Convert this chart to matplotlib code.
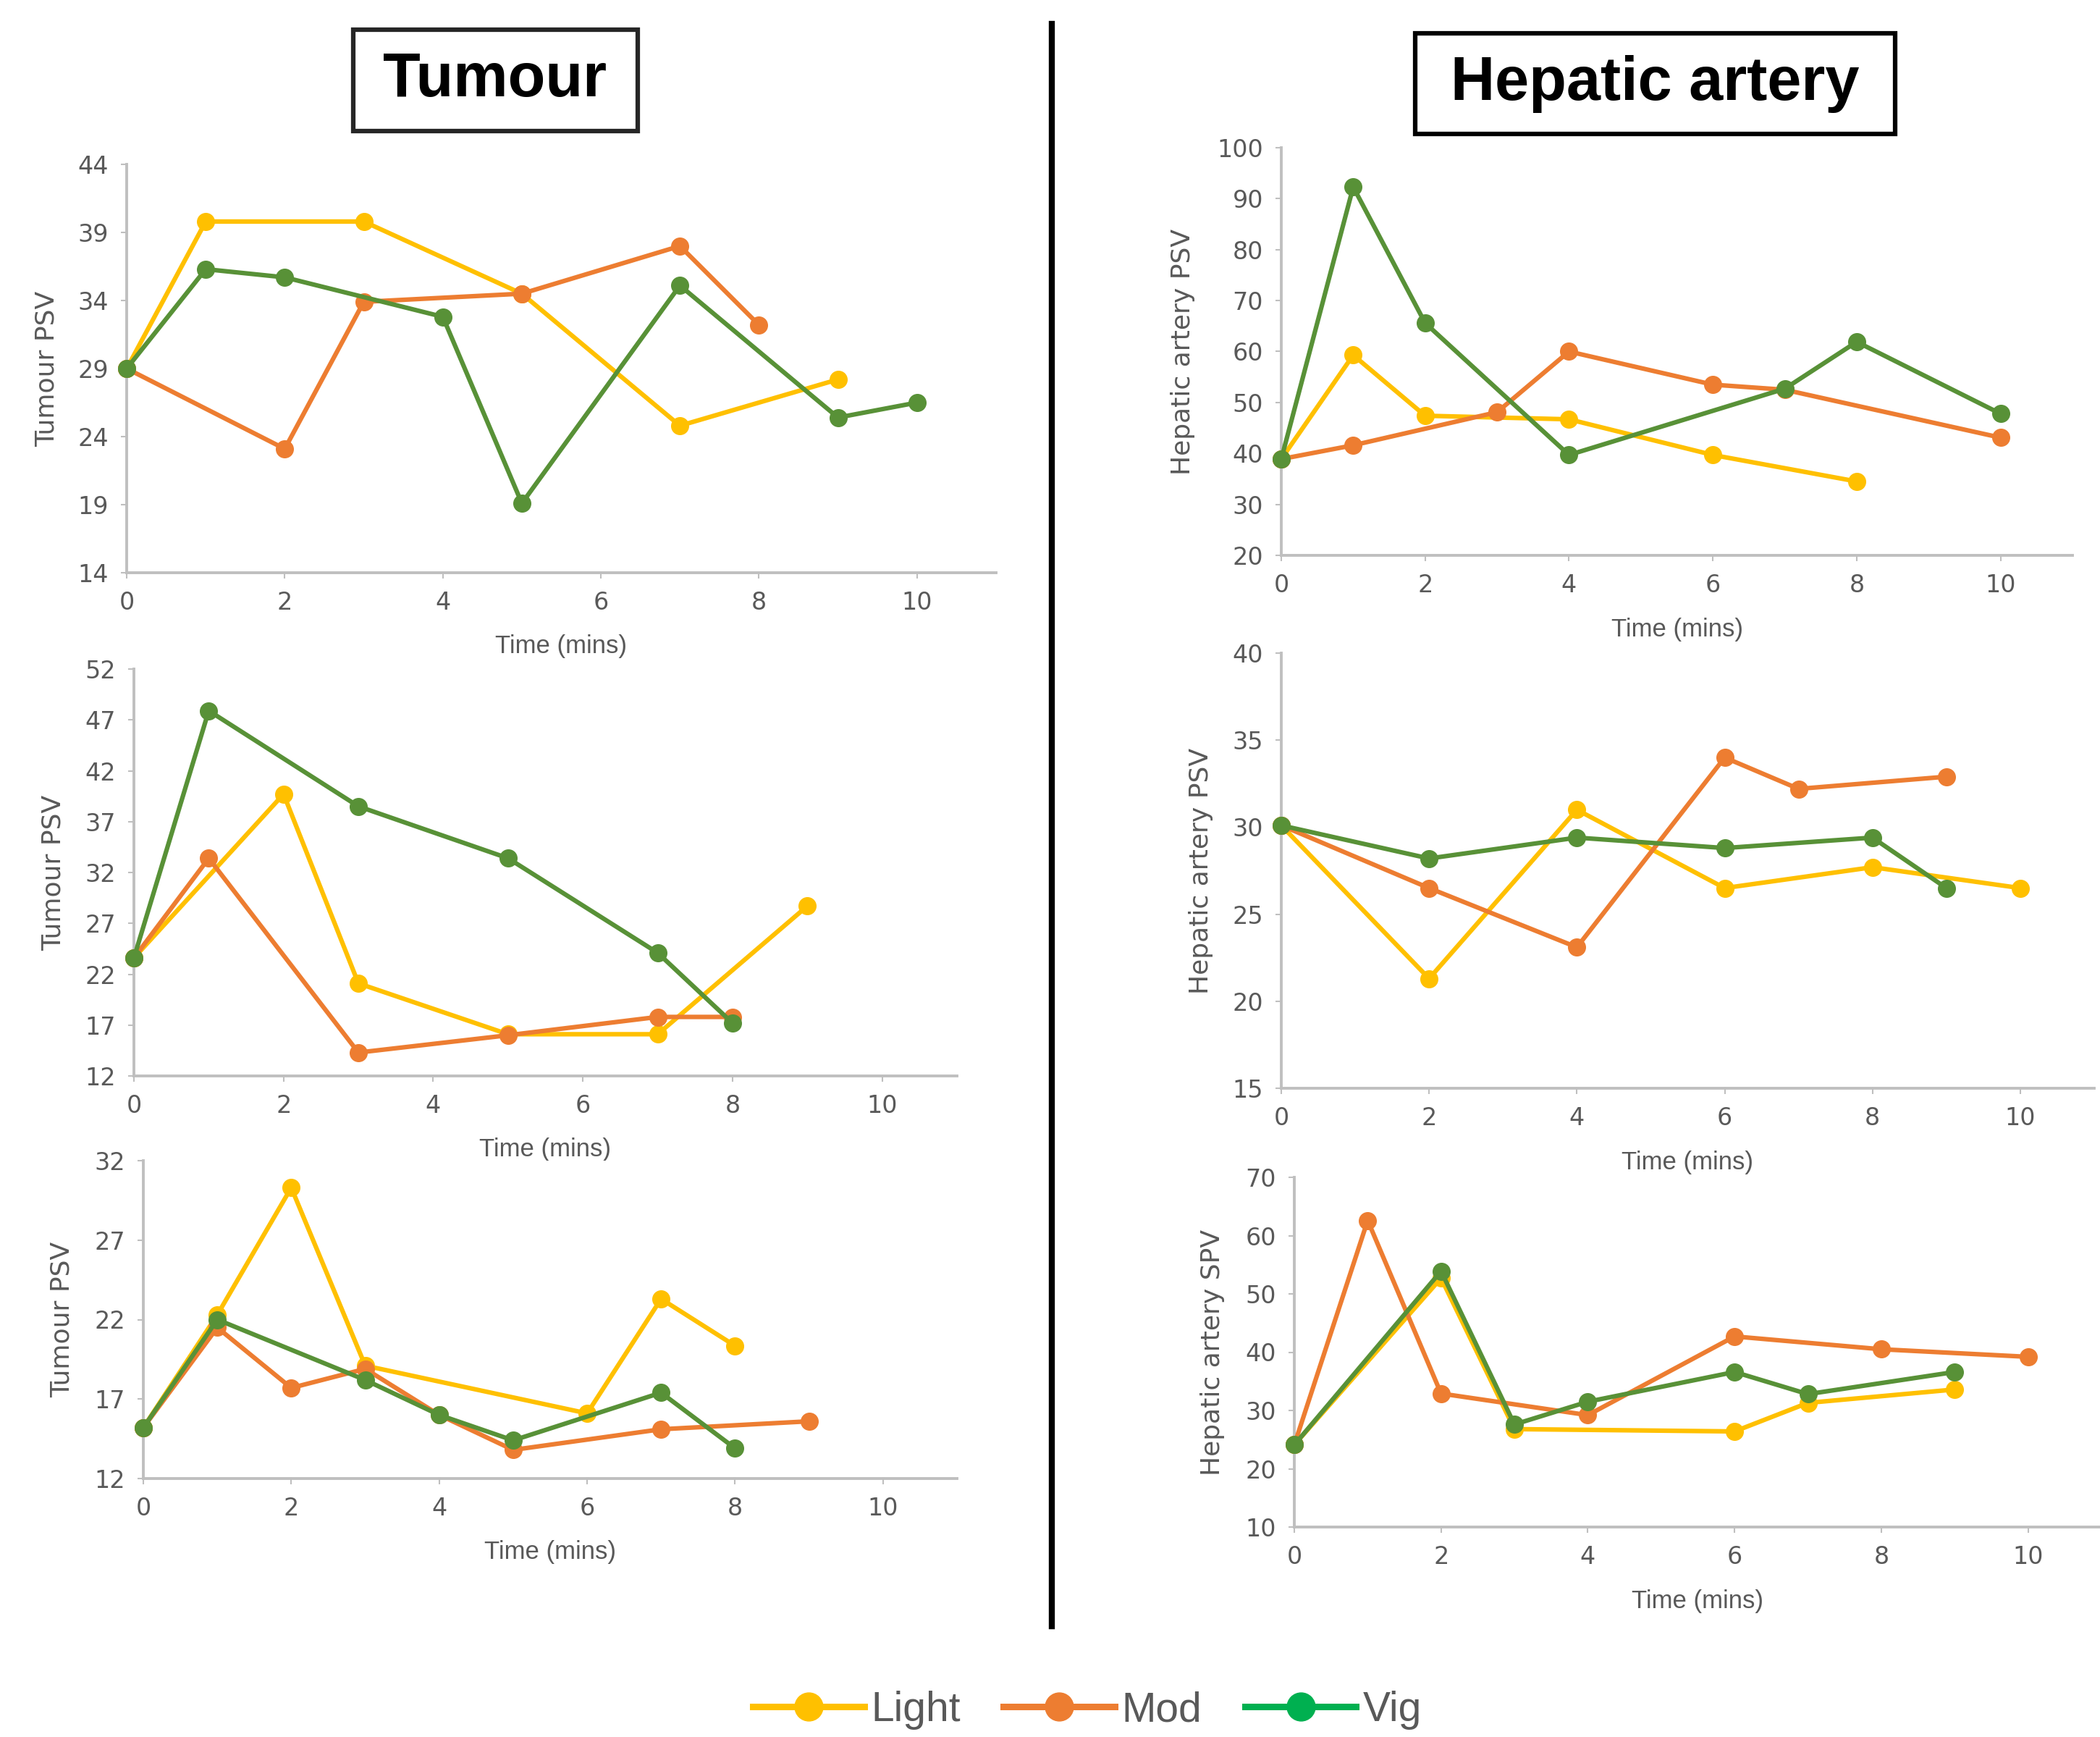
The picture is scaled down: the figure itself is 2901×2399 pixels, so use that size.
import matplotlib.pyplot as plt
from matplotlib.lines import Line2D
from matplotlib.patches import Rectangle

# colores
AMARILLO = '#FFC000'
NARANJA = '#ED7D31'
VERDE = '#589137'
VERDE_LEY = '#00B050'
GRIS = '#595959'

W, H = 2901, 2399
FUENTE = ['Liberation Sans', 'DejaVu Sans']

# ---- datos ----
series = ['Light', 'Mod', 'Vig']

# Tumour 1
t1_light_x = [0, 1, 3, 5, 7, 9]
t1_light_y = [29, 39.8, 39.8, 34.5, 24.8, 28.2]
t1_mod_x = [0, 2, 3, 5, 7, 8]
t1_mod_y = [29, 23.1, 33.9, 34.5, 38.0, 32.2]
t1_vig_x = [0, 1, 2, 4, 5, 7, 9, 10]
t1_vig_y = [29, 36.3, 35.7, 32.8, 19.1, 35.1, 25.4, 26.5]

# Tumour 2
t2_light_x = [0, 2, 3, 5, 7, 9]
t2_light_y = [23.6, 39.7, 21.1, 16.1, 16.1, 28.7]
t2_mod_x = [0, 1, 3, 5, 7, 8]
t2_mod_y = [23.6, 33.4, 14.3, 16.0, 17.8, 17.8]
t2_vig_x = [0, 1, 3, 5, 7, 8]
t2_vig_y = [23.6, 47.9, 38.5, 33.4, 24.1, 17.2]

# Tumour 3
t3_light_x = [0, 1, 2, 3, 6, 7, 8]
t3_light_y = [15.2, 22.3, 30.3, 19.1, 16.1, 23.3, 20.35]
t3_mod_x = [0, 1, 2, 3, 4, 5, 7, 9]
t3_mod_y = [15.2, 21.5, 17.7, 18.9, 16.0, 13.8, 15.1, 15.6]
t3_vig_x = [0, 1, 3, 4, 5, 7, 8]
t3_vig_y = [15.2, 22.0, 18.2, 16.0, 14.4, 17.4, 13.9]

# Hepatic artery 1
h1_light_x = [0, 1, 2, 4, 6, 8]
h1_light_y = [38.9, 59.3, 47.4, 46.7, 39.7, 34.5]
h1_mod_x = [0, 1, 3, 4, 6, 7, 10]
h1_mod_y = [38.9, 41.6, 48.1, 60.0, 53.5, 52.5, 43.1]
h1_vig_x = [0, 1, 2, 4, 7, 8, 10]
h1_vig_y = [38.9, 92.3, 65.6, 39.7, 52.7, 61.9, 47.8]

# Hepatic artery 2
h2_light_x = [0, 2, 4, 6, 8, 10]
h2_light_y = [30.1, 21.3, 31.0, 26.5, 27.7, 26.5]
h2_mod_x = [0, 2, 4, 6, 7, 9]
h2_mod_y = [30.1, 26.5, 23.1, 34.0, 32.2, 32.9]
h2_vig_x = [0, 2, 4, 6, 8, 9]
h2_vig_y = [30.1, 28.2, 29.4, 28.8, 29.4, 26.5]

# Hepatic artery 3
h3_light_x = [0, 2, 3, 6, 7, 9]
h3_light_y = [24.1, 52.7, 26.8, 26.4, 31.3, 33.6]
h3_mod_x = [0, 1, 2, 4, 6, 8, 10]
h3_mod_y = [24.1, 62.6, 32.9, 29.2, 42.7, 40.5, 39.2]
h3_vig_x = [0, 2, 3, 4, 6, 7, 9]
h3_vig_y = [24.1, 53.9, 27.6, 31.5, 36.6, 32.8, 36.6]

x_ticks = [0, 2, 4, 6, 8, 10]
xlabel = 'Time (mins)'


def crear_ejes(fig, izq, der, arriba, abajo):
    # caja en pixeles -> fraccion de figura
    return fig.add_axes([izq / W, 1 - abajo / H, (der - izq) / W, (abajo - arriba) / H])


def graficar(ax, datos, ymin, ymax, ypaso, ylabel, ylab_x, alto_px):
    colores = [AMARILLO, NARANJA, VERDE]
    for (x, y), c in zip(datos, colores):
        ax.plot(x, y, color=c, lw=4.5, marker='o', ms=17, clip_on=False, zorder=3)
    ax.set_xlim(0, 11)
    ax.set_ylim(ymin, ymax)
    ax.set_xticks(x_ticks)
    ax.set_yticks(range(ymin, ymax + 1, ypaso))
    for s in ['top', 'right']:
        ax.spines[s].set_visible(False)
    for s in ['left', 'bottom']:
        ax.spines[s].set_color('#BFBFBF')
        ax.spines[s].set_linewidth(2.8)
    ax.tick_params(length=6, width=1.5, color='#BFBFBF', labelcolor=GRIS, labelsize=24, pad=12)
    ax.set_xlabel(xlabel, fontsize=25, color=GRIS, family=FUENTE, va='center')
    ax.xaxis.set_label_coords(0.5, -102 / alto_px)
    ax.set_ylabel(ylabel, fontsize=26, color=GRIS, va='center')
    ax.yaxis.set_label_coords(ylab_x, 0.5)


fig = plt.figure(figsize=(W / 100, H / 100), dpi=100)

ax = crear_ejes(fig, 175, 1376, 227, 791)
graficar(ax, [(t1_light_x, t1_light_y), (t1_mod_x, t1_mod_y), (t1_vig_x, t1_vig_y)],
         14, 44, 5, 'Tumour PSV', -0.092, 564)

ax = crear_ejes(fig, 185, 1322, 924, 1486)
graficar(ax, [(t2_light_x, t2_light_y), (t2_mod_x, t2_mod_y), (t2_vig_x, t2_vig_y)],
         12, 52, 5, 'Tumour PSV', -0.098, 562)

ax = crear_ejes(fig, 198, 1322, 1603, 2042)
graficar(ax, [(t3_light_x, t3_light_y), (t3_mod_x, t3_mod_y), (t3_vig_x, t3_vig_y)],
         12, 32, 5, 'Tumour PSV', -0.100, 439)

ax = crear_ejes(fig, 1770, 2863, 204, 767)
graficar(ax, [(h1_light_x, h1_light_y), (h1_mod_x, h1_mod_y), (h1_vig_x, h1_vig_y)],
         20, 100, 10, 'Hepatic artery PSV', -0.124, 563)

ax = crear_ejes(fig, 1770, 2893, 902, 1503)
graficar(ax, [(h2_light_x, h2_light_y), (h2_mod_x, h2_mod_y), (h2_vig_x, h2_vig_y)],
         15, 40, 5, 'Hepatic artery PSV', -0.099, 601)

ax = crear_ejes(fig, 1788, 2903, 1626, 2109)
graficar(ax, [(h3_light_x, h3_light_y), (h3_mod_x, h3_mod_y), (h3_vig_x, h3_vig_y)],
         10, 70, 10, 'Hepatic artery SPV', -0.101, 483)

# titulos con recuadro
fig.patches.append(Rectangle((488 / W, 1 - 181 / H), (881 - 488) / W, (181 - 41) / H,
                             transform=fig.transFigure, fill=False, ec='#262626', lw=4.5))
fig.text(684 / W, 1 - 111 / H, 'Tumour', fontsize=61, fontweight='bold', ha='center', va='center',
         family=FUENTE)
fig.patches.append(Rectangle((1955 / W, 1 - 185 / H), (2618 - 1955) / W, (185 - 46) / H,
                             transform=fig.transFigure, fill=False, ec='black', lw=4.5))
fig.text(2286 / W, 1 - 116 / H, 'Hepatic artery', fontsize=61, fontweight='bold', ha='center', va='center',
         family=FUENTE)

# linea divisoria
fig.add_artist(Line2D([1453 / W, 1453 / W], [1 - 33 / H, 1 - 2246 / H], color='black', lw=6))

# leyenda
handles = [Line2D([], [], color=c, lw=6.5, marker='o', ms=28) for c in [AMARILLO, NARANJA, VERDE_LEY]]
fig.legend(handles, series, loc='center', bbox_to_anchor=(1502 / W, 1 - 2362 / H), ncol=3,
           frameon=False, handlelength=2.7, handletextpad=0.16, columnspacing=1.05,
           labelcolor=GRIS, prop={'family': FUENTE, 'size': 41})

fig.savefig('out.png', dpi=100)
